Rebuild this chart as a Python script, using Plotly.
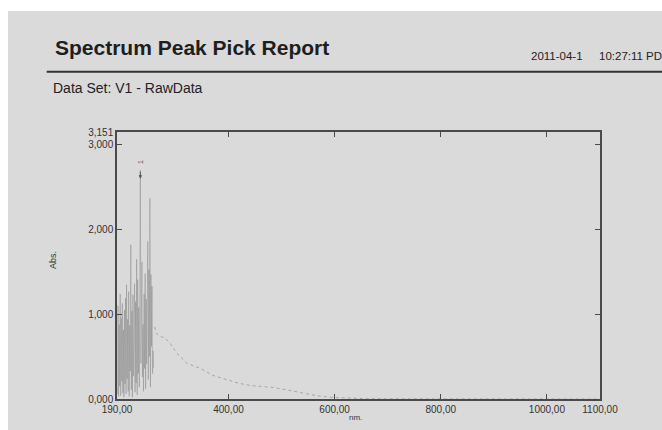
import plotly.graph_objects as go

# Raw absorbance spectrum, noisy region in the deep UV (1 nm steps)
noise_nm = list(range(191, 260))
noise_abs = [60, 1100, 30, 880, 150, 1240, 40, 960, 210, 1130,
             70, 820, 20, 1050, 180, 1190, 60, 1350, 240, 940,
             90, 1270, 30, 870, 330, 1820, 110, 1040, 20, 1230,
             270, 960, 1360, 80, 1150, 190, 1650, 50, 1410, 300,
             1080, 140, 1560, 2700, 420, 1320, 1620, 260, 880, 90,
             1240, 360, 1480, 120, 1180, 410, 1390, 1860, 230, 1530,
             500, 2370, 140, 1470, 620, 1330, 300, 570, 370]

# Smooth tail of the spectrum
curve_nm = [261, 264, 270, 276, 281, 290, 303, 322, 347, 371, 390, 398,
            420, 441, 462, 484, 508, 533, 565, 596, 630, 660, 700, 750,
            800, 850, 900, 950, 1000, 1050, 1100]
curve_abs = [850, 775, 745, 730, 716, 657, 538, 420, 361, 278, 243, 219,
             185, 160, 146, 136, 110, 77, 40, 18, 8, 4, 2, 1,
             0, 0, 0, 0, 0, 0, 0]

# Picked peak
peak_nm = [234]
peak_abs = [2700]
peak_ids = ["1"]

x_ticks = [190, 400, 600, 800, 1000, 1100]
x_labels = ["190,00", "400,00", "600,00", "800,00", "1000,00", "1100,00"]
y_ticks = [0, 1000, 2000, 3000, 3151]
y_labels = ["0,000", "1,000", "2,000", "3,000", "3,151"]

BG = "#dadada"
INK = "#4a4a4a"
FONT = "Liberation Sans, Arial, sans-serif"

fig = go.Figure()
fig.add_trace(go.Scatter(x=noise_nm, y=noise_abs, mode="lines",
                         line=dict(color="rgba(110,110,110,0.55)", width=0.6),
                         hoverinfo="skip", showlegend=False))
fig.add_trace(go.Scatter(x=curve_nm, y=curve_abs, mode="lines",
                         line=dict(color="#a6a6a6", width=1, dash="dot"),
                         hoverinfo="skip", showlegend=False))

L, R, T, B = 117, 62, 132, 31
W, H = 662, 430
PW, PH = W - L - R, H - T - B


def px(x):
    return (x - L) / PW


def py(y):
    return (H - B - y) / PH


annotations = []
# peak arrow and number
for nm, ab, pid in zip(peak_nm, peak_abs, peak_ids):
    annotations.append(dict(x=nm, y=ab - 100, ax=nm, ay=ab, axref="x", ayref="y",
                            xref="x", yref="y", text="", showarrow=True,
                            arrowhead=2, arrowsize=0.7, arrowwidth=1,
                            arrowcolor="#555"))
    annotations.append(dict(x=nm, y=ab + 100, xref="x", yref="y", text=pid,
                            showarrow=False, textangle=-90,
                            font=dict(size=7, color="#555", family=FONT)))

annotations += [
    dict(x=px(53), y=py(48), xref="paper", yref="paper", xanchor="left",
         yanchor="middle", text="<b>Spectrum Peak Pick Report</b>", showarrow=False,
         font=dict(size=21, color="#1e1e1e", family=FONT)),
    dict(x=px(529), y=py(56), xref="paper", yref="paper", xanchor="left",
         yanchor="middle", text="2011-04-1", showarrow=False,
         font=dict(size=11.5, color="#222", family=FONT)),
    dict(x=px(597), y=py(56), xref="paper", yref="paper", xanchor="left",
         yanchor="middle", text="10:27:11 PD", showarrow=False,
         font=dict(size=11.5, color="#222", family=FONT)),
    dict(x=px(50.7), y=py(88.5), xref="paper", yref="paper", xanchor="left",
         yanchor="middle", text="Data Set: V1 - RawData", showarrow=False,
         font=dict(size=14, color="#222", family=FONT)),
    dict(x=px(53), y=py(260), xref="paper", yref="paper", xanchor="center",
         yanchor="middle", text="Abs.", textangle=-90, showarrow=False,
         font=dict(size=9, color="#333", family=FONT)),
    dict(x=px(355), y=py(417), xref="paper", yref="paper", xanchor="center",
         yanchor="middle", text="nm.", showarrow=False,
         font=dict(size=8, color="#333", family=FONT)),
]

shapes = [
    # rule under the header
    dict(type="line", xref="paper", yref="paper", x0=px(46.7), x1=px(662),
         y0=py(71.7), y1=py(71.7), line=dict(color="#333", width=2)),
    # white page edges
    dict(type="rect", xref="paper", yref="paper", x0=px(0), x1=px(662),
         y0=py(11), y1=py(0), fillcolor="white", line=dict(width=0)),
    dict(type="rect", xref="paper", yref="paper", x0=px(0), x1=px(8),
         y0=py(430), y1=py(0), fillcolor="white", line=dict(width=0)),
]

fig.update_layout(
    width=W, height=H,
    margin=dict(l=L, r=R, t=T, b=B),
    paper_bgcolor=BG, plot_bgcolor=BG,
    font=dict(family=FONT, color="#333"),
    annotations=annotations,
    shapes=shapes,
    xaxis=dict(range=[190, 1100], tickvals=x_ticks, ticktext=x_labels,
               showgrid=False, zeroline=False, showline=True, linecolor=INK,
               linewidth=1.5, mirror="ticks", ticks="inside", ticklen=5,
               tickcolor=INK, tickwidth=1.2, tickfont=dict(size=10, color="#333")),
    yaxis=dict(range=[0, 3151], tickvals=y_ticks, ticktext=y_labels,
               showgrid=False, zeroline=False, showline=True, linecolor=INK,
               linewidth=1.5, mirror="ticks", ticks="inside", ticklen=5,
               tickcolor=INK, tickwidth=1.2, tickfont=dict(size=10, color="#333")),
)

fig.write_html("out.html")
